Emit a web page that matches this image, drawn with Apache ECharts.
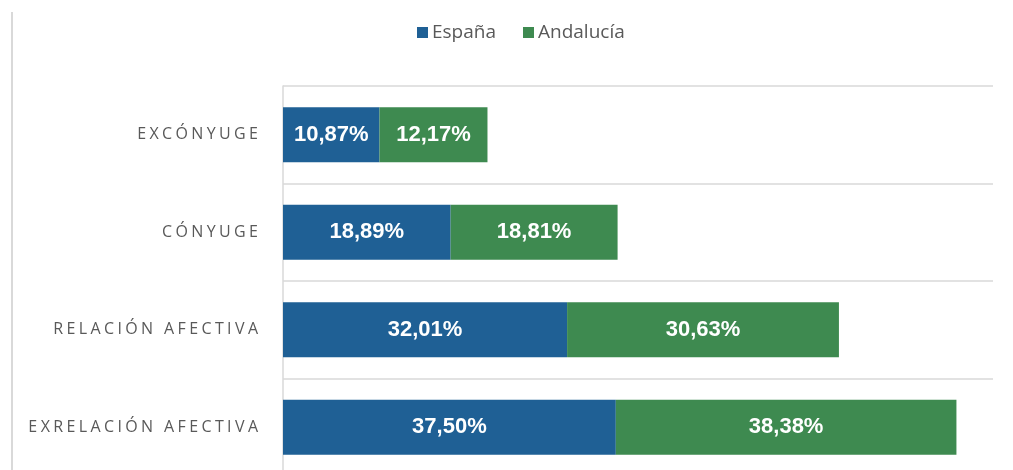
<!DOCTYPE html>
<html>
<head>
<meta charset="utf-8">
<script src="https://cdn.jsdelivr.net/npm/echarts@6/dist/echarts.min.js"></script>
<style>html,body{margin:0;padding:0;background:#fff}#c{width:1013px;height:470px}</style>
</head>
<body>
<div id="c"></div>
<script>
const categories = ['EXCÓNYUGE', 'CÓNYUGE', 'RELACIÓN AFECTIVA', 'EXRELACIÓN AFECTIVA'];
const espana = [10.87, 18.89, 32.01, 37.50];
const andalucia = [12.17, 18.81, 30.63, 38.38];
const seriesNames = ['España', 'Andalucía'];

const chart = echarts.init(document.getElementById('c'), null, {renderer: 'canvas'});
const fmt = v => v.toFixed(2).replace('.', ',') + '%';
const spaced = s => s.split('').map(ch => '{t|' + ch + '}').join('{s| }');

const barLabel = {
  show: true, position: 'inside', color: '#fff',
  fontFamily: 'Liberation Sans, Arial', fontWeight: 'bold', fontSize: 22,
  formatter: p => fmt(p.value)
};

chart.setOption({
  animation: false,
  backgroundColor: '#fff',
  legend: {
    data: seriesNames, left: 412, top: 18,
    itemWidth: 11, itemHeight: 11, itemGap: 27, icon: 'rect',
    textStyle: {fontFamily: 'Open Sans', fontSize: 19, color: '#595959', padding: [0, 0, 0, -1]}
  },
  grid: {left: 283, right: 20, top: 86, bottom: -6, containLabel: false, outerBoundsMode: 'none'},
  xAxis: {
    type: 'value', min: 0, max: 80, show: false
  },
  yAxis: {
    type: 'category', data: categories, inverse: true,
    axisLine: {show: true, lineStyle: {color: '#d9d9d9', width: 1.5}},
    axisTick: {show: false},
    splitLine: {show: true, lineStyle: {color: '#d9d9d9', width: 1.5}},
    axisLabel: {
      margin: 25,
      formatter: v => spaced(v),
      rich: {
        t: {fontFamily: 'Open Sans', fontSize: 16, color: '#595959', lineHeight: 18},
        s: {fontFamily: 'Open Sans', fontSize: 13, lineHeight: 18}
      }
    }
  },
  graphic: [{
    type: 'line', shape: {x1: 12, y1: 12, x2: 12, y2: 470},
    style: {stroke: '#d9d9d9', lineWidth: 2}
  }],
  series: [
    {name: seriesNames[0], type: 'bar', stack: 'a', data: espana, barWidth: 55,
     itemStyle: {color: '#1F6095'}, label: barLabel},
    {name: seriesNames[1], type: 'bar', stack: 'a', data: andalucia, barWidth: 55,
     itemStyle: {color: '#3E8A50'}, label: barLabel}
  ]
});
</script>
</body>
</html>
